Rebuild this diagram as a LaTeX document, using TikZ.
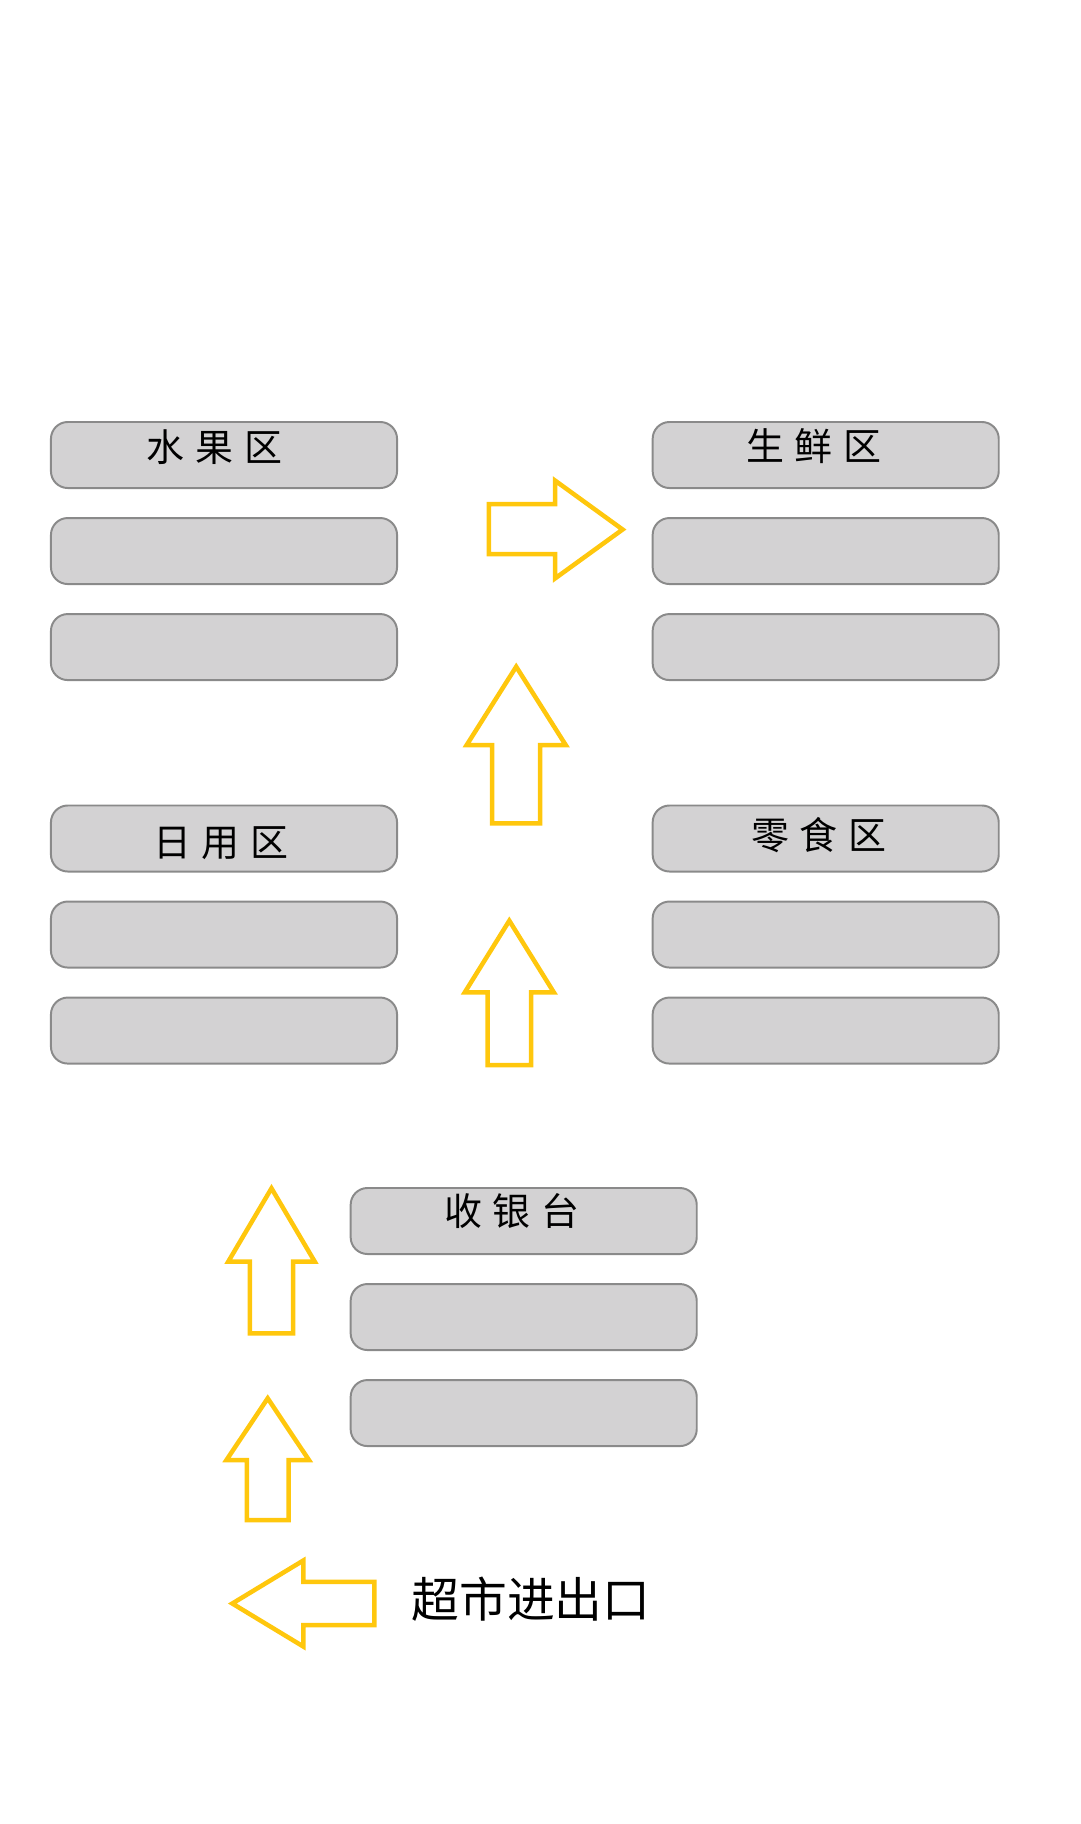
\documentclass[tikz,border=0pt]{standalone}
\usepackage{fontspec}
\newfontfamily\cjkfont{Noto Sans CJK SC}
\usetikzlibrary{positioning}
\definecolor{shelfgray}{RGB}{211,210,211}
\definecolor{shelfline}{RGB}{138,138,138}
\definecolor{flowyellow}{RGB}{255,199,13}
\tikzset{
  shelf/.style = {draw = shelfline, fill = shelfgray, line width = 1.4pt,
    rounded corners = 0.42cm, minimum width = 8.65cm, minimum height = 1.65cm,
    inner sep = 0pt},
  zone/.style = {font = \cjkfont\fontsize{27}{27}\selectfont, inner sep = 0pt},
  flow/.style = {draw = flowyellow, line width = 3.2pt, line join = miter},
}
\newcommand{\zgap}{\hspace{0.28em}}
% block arrow pointing up: tip x, tip y, head base y, head half width, shaft half width, tail y
\newcommand{\flowup}[6]{%
  \draw [flow] (#1,#2) -- ({#1+#4},#3) -- ({#1+#5},#3) -- ({#1+#5},#6)
    -- ({#1-#5},#6) -- ({#1-#5},#3) -- ({#1-#4},#3) -- cycle;}

\begin{document}
\begin{tikzpicture} [x = 0.025cm, y = -0.025cm, node distance = 2.4cm, on grid]
\useasboundingbox (0,0) rectangle (1080,1824);
% shelves
\node (fruit1) [shelf] at (224,455) {};
\node (fruit2) [shelf, below = of fruit1] {};
\node (fruit3) [shelf, below = of fruit2] {};
\node (fresh1) [shelf] at (825.7,455) {};
\node (fresh2) [shelf, below = of fresh1] {};
\node (fresh3) [shelf, below = of fresh2] {};
\node (daily1) [shelf] at (224,838.5) {};
\node (daily2) [shelf, below = of daily1] {};
\node (daily3) [shelf, below = of daily2] {};
\node (snack1) [shelf] at (825.7,838.5) {};
\node (snack2) [shelf, below = of snack1] {};
\node (snack3) [shelf, below = of snack2] {};
\node (till1) [shelf] at (523.7,1221) {};
\node (till2) [shelf, below = of till1] {};
\node (till3) [shelf, below = of till2] {};
% zone names
\node (fruitname) [zone] at (214.5,447) {水\zgap 果\zgap 区};
\node (freshname) [zone] at (814,445.7) {生\zgap 鲜\zgap 区};
\node (dailyname) [zone] at (221,842.7) {日\zgap 用\zgap 区};
\node (snackname) [zone] at (819,835) {零\zgap 食\zgap 区};
\node (tillname) [zone] at (512,1210.5) {收\zgap 银\zgap 台};
\node (exit) [font = \cjkfont\fontsize{34}{34}\selectfont, inner sep = 0pt]
  at (531,1599) {超市进出口};
% walking route
\flowup{271.5}{1188.3}{1261.7}{43.3}{21.7}{1333.3}
\flowup{267.7}{1398.3}{1460}{41.2}{20.8}{1520}
\flowup{509.3}{920.7}{992.3}{44.5}{21.7}{1065}
\flowup{516.2}{666.7}{745}{49.5}{24}{823.3}
\draw [flow] (622.6,529.5) -- (555.1,578.4) -- (555.1,554) -- (488.8,554)
  -- (488.8,504) -- (555.1,504) -- (555.1,480.6) -- cycle;
\draw [flow] (232.3,1603.5) -- (303.3,1560.5) -- (303.3,1581.8) -- (374.3,1581.8)
  -- (374.3,1625.2) -- (303.3,1625.2) -- (303.3,1646.5) -- cycle;
\end{tikzpicture}
\end{document}
